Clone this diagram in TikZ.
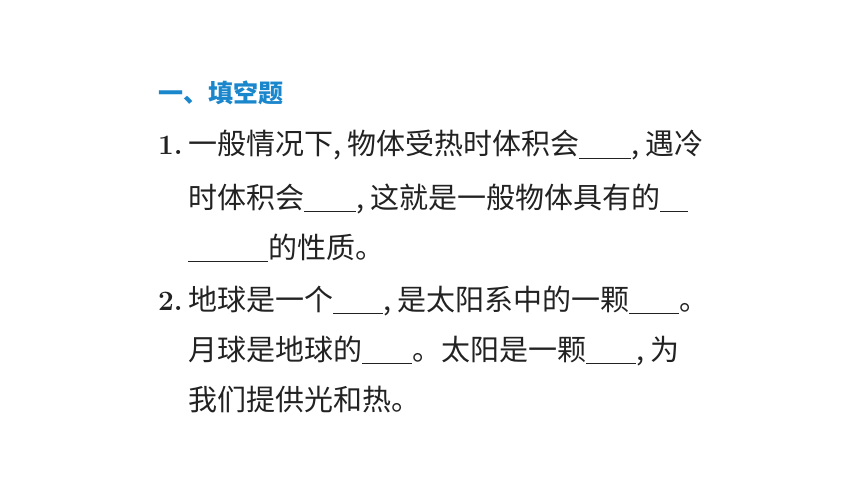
\documentclass[tikz,border=0pt]{standalone}
\usepackage{fontspec}
\newfontfamily\cjk{Noto Sans CJK SC}
\definecolor{titleblue}{HTML}{1A86CC}
\definecolor{txt}{HTML}{222222}
\newcommand{\blank}[1]{\rule[-4pt]{#1pt}{1.3pt}}
\newcommand{\cm}{,\hspace{6pt}}
\begin{document}
\begin{tikzpicture}[x=1pt,y=-1pt,
  ln/.style={anchor=base west,inner sep=0pt,text=txt,font=\cjk\fontsize{29}{30}\selectfont},
  num/.style={anchor=base west,inner sep=0pt,text=txt,font=\bfseries\fontsize{28}{30}\selectfont}]
\useasboundingbox[fill=white] (0,0) rectangle (860,484);
\node[anchor=base west,inner sep=0pt,text=titleblue,font=\cjk\bfseries\fontsize{25}{30}\selectfont] (t) at (158,103) {一、填空题};
\node[num] (n1) at (158,155) {1.};
\node[ln] (l1) at (188,155) {一般情况下\cm 物体受热时体积会\blank{52}\cm 遇冷};
\node[ln] (l2) at (188,208) {时体积会\blank{52}\cm 这就是一般物体具有的\blank{28}};
\node[ln] (l3) at (188,258) {\blank{80}的性质。};
\node[num] (n2) at (158,310) {2.};
\node[ln] (l4) at (188,310) {地球是一个\blank{50}\cm 是太阳系中的一颗\blank{50}。};
\node[ln] (l5) at (188,360) {月球是地球的\blank{50}。太阳是一颗\blank{50}\cm 为};
\node[ln] (l6) at (188,410) {我们提供光和热。};
\end{tikzpicture}
\end{document}
